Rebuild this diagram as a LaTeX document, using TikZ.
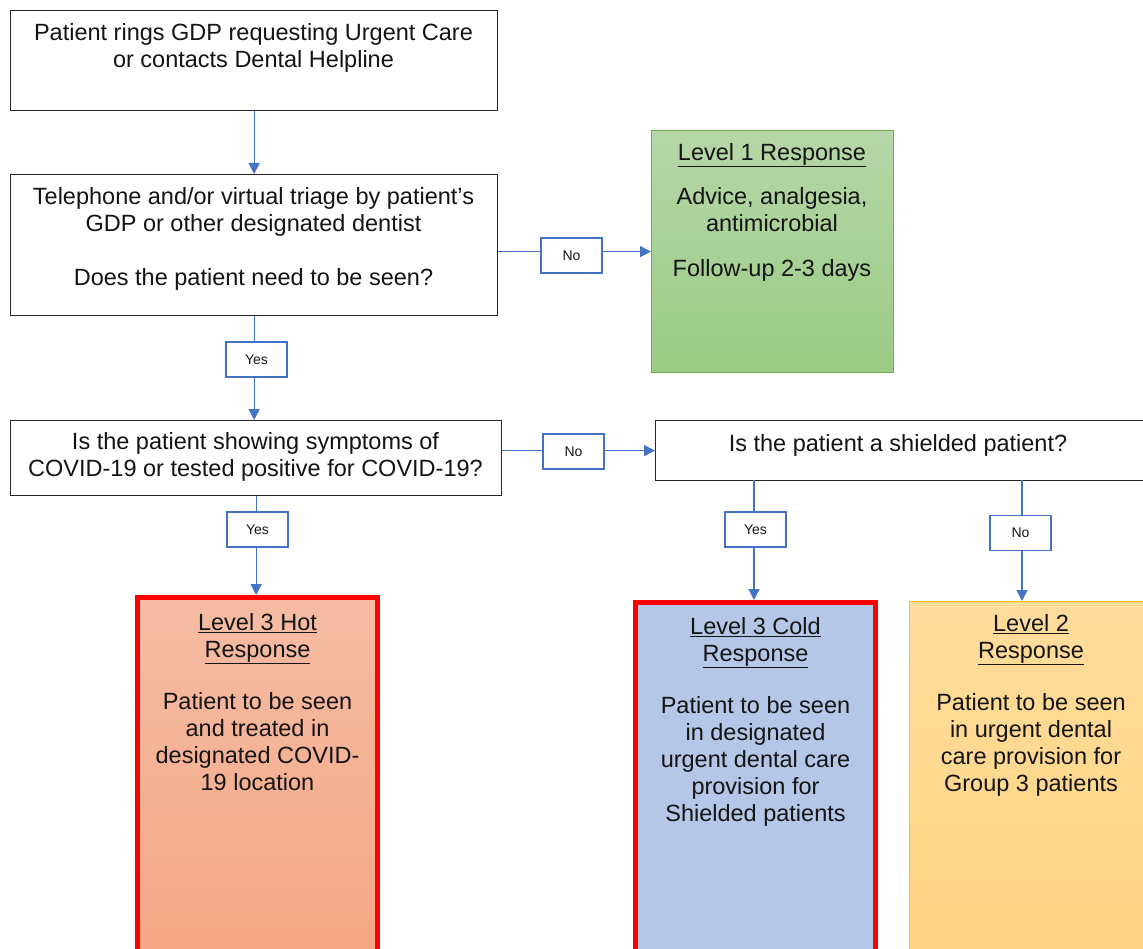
\documentclass[tikz,border=0pt]{standalone}
\usepackage{fontspec}
\setmainfont{Liberation Sans}
\usetikzlibrary{arrows.meta}
\definecolor{connblue}{HTML}{4472C4}
\definecolor{boxline}{HTML}{262626}
\definecolor{txtcol}{HTML}{141414}
\definecolor{grtop}{HTML}{B6D7A8}
\definecolor{grbot}{HTML}{9BCB84}
\definecolor{grline}{HTML}{70AD47}
\definecolor{hottop}{HTML}{F5BCA3}
\definecolor{hotbot}{HTML}{F4A482}
\definecolor{coldfill}{HTML}{B4C7E7}
\definecolor{ambtop}{HTML}{FFDC9C}
\definecolor{ambbot}{HTML}{FFD47F}
\definecolor{ambline}{HTML}{FFC000}
\begin{document}
\begin{tikzpicture}[x=1pt,y=-1pt,
  box/.style={draw=boxline, line width=1.3pt, fill=white, anchor=north west, inner sep=0pt},
  txt/.style={font=\fontsize{23.5}{27}\selectfont, text=txtcol, align=center, inner sep=0pt, anchor=north},
  lbl/.style={draw=connblue, line width=1.1pt, fill=white, minimum width=61pt, minimum height=35pt, inner sep=0pt, font=\fontsize{14}{16}\selectfont, text=txtcol},
  conn/.style={draw=connblue, line width=1.3pt, -{Triangle[length=11pt,width=11pt]}},
  redbox/.style={draw=red, line width=5pt, anchor=north west, inner sep=0pt, minimum width=240pt},
]
\useasboundingbox (0,0) rectangle (1143,949);
\clip (0,0) rectangle (1143,949);
\fill[white] (0,0) rectangle (1143,949);

% main boxes
\node[box, minimum width=487pt, minimum height=100pt] (b1) at (10,10) {};
\node[box, minimum width=487pt, minimum height=141pt] (b2) at (10,174) {};
\node[box, minimum width=491pt, minimum height=75pt] (b3) at (10,420) {};
\node[box, minimum width=490pt, minimum height=60pt] (b4) at (655,420) {};

% outcome boxes
\node[draw=grline, line width=1.2pt, top color=grtop, bottom color=grbot, anchor=north west, inner sep=0pt, minimum width=242pt, minimum height=242pt] (green) at (651,130) {};
\node[redbox, top color=hottop, bottom color=hotbot, minimum height=400pt] (hot) at (135,595) {};
\node[redbox, fill=coldfill, minimum height=400pt] (cold) at (633,600) {};
\node[draw=ambline, line width=1.2pt, top color=ambtop, bottom color=ambbot, anchor=north west, inner sep=0pt, minimum width=250pt, minimum height=400pt] (amber) at (909,601) {};

% texts
\node[txt] (t1) at (253.5,23) {Patient rings GDP requesting Urgent Care\\or contacts Dental Helpline};
\node[txt] (t2) at (253.5,187) {Telephone and/or virtual triage by patient’s\\GDP or other designated dentist\\[27pt]Does the patient need to be seen?};
\node[txt] (t3) at (255.5,432) {Is the patient showing symptoms of\\COVID-19 or tested positive for COVID-19?};
\node[txt] (t4) at (898,434) {Is the patient a shielded patient?};
\node[txt] (tg) at (772,143) {\underline{Level 1 Response}\\[17pt]Advice, analgesia,\\antimicrobial\\[18pt]Follow-up 2-3 days};
\node[txt] (th) at (257.5,613) {\underline{Level 3 Hot}\\\underline{Response}\\[25pt]Patient to be seen\\and treated in\\designated COVID-\\19 location};
\node[txt] (tc) at (755.5,617) {\underline{Level 3 Cold}\\\underline{Response}\\[25pt]Patient to be seen\\in designated\\urgent dental care\\provision for\\Shielded patients};
\node[txt] (ta) at (1031,614) {\underline{Level 2}\\\underline{Response}\\[25pt]Patient to be seen\\in urgent dental\\care provision for\\Group 3 patients};

% connectors
\draw[conn] (b1.south) -- (b1.south |- b2.north);
\draw[conn] (b2.east |- green.west) -- (green.west);
\draw[conn] (b2.south) -- (b2.south |- b3.north);
\draw[conn] (b3.east |- b4.west) -- (b4.west);
\draw[conn] (b3.south) -- (b3.south |- hot.north);
\coordinate (s1) at (754,480);
\coordinate (s2) at (1022,480);
\draw[conn] (s1) -- (s1 |- cold.north);
\draw[conn] (s2) -- (s2 |- amber.north);

% labels
\node[lbl] (n1) at (571.5,255.5) {No};
\node[lbl] (y1) at (256.5,359.5) {Yes};
\node[lbl] (n2) at (573.5,451.5) {No};
\node[lbl] (y2) at (257.5,529.5) {Yes};
\node[lbl] (y3) at (755.5,529.5) {Yes};
\node[lbl] (n3) at (1020.5,533) {No};
\end{tikzpicture}
\end{document}
